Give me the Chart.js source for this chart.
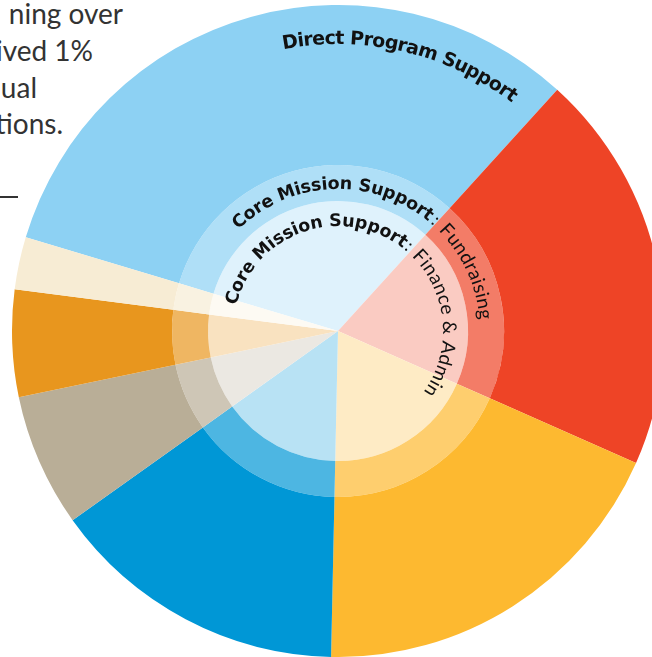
<!DOCTYPE html>
<html>
<head>
<meta charset="utf-8">
<script src="https://cdn.jsdelivr.net/npm/chart.js@4.4.1/dist/chart.umd.min.js"></script>
<style>
  html, body { margin: 0; padding: 0; background: #fff; overflow: hidden; }
  body { width: 652px; height: 657px; position: relative; }
  .copy { position: absolute; font-family: Lato, "Open Sans", sans-serif; font-size: 28px; color: #333; white-space: nowrap; line-height: 1; }
  .rule { position: absolute; left: 0; top: 196px; width: 18px; height: 1.5px; background: #333; }
  #wrap { position: absolute; left: 12px; top: 5px; width: 652px; height: 652px; }
</style>
</head>
<body>
  <!-- page text sitting behind the chart -->
  <div class="copy" style="right:529px; top:-1px;">ning over</div>
  <div class="copy" style="right:559px; top:36px;">ived 1%</div>
  <div class="copy" style="right:615px; top:73px;">ual</div>
  <div class="copy" style="right:589px; top:109px;">tions.</div>
  <div class="rule"></div>

  <div id="wrap"><canvas id="pie" width="652" height="652"></canvas></div>

<script>
// Share of spending (percent)
const categories = [
  'Direct Program Support',
  'Core Mission Support: Fundraising',
  'Core Mission Support: Finance & Admin',
  'Program Area 4',
  'Program Area 5',
  'Program Area 6',
  'Program Area 7'
];
const shares = [32.1, 19.9, 18.7, 14.8, 6.6, 5.3, 2.6];
const baseColors = ['#8dd1f3', '#ee4426', '#fdb930', '#0097d6', '#b9ae97', '#e8961e', '#f7ecd4'];

// blend a colour toward white
function lighten(hex, t) {
  const n = parseInt(hex.slice(1), 16);
  const r = n >> 16, g = (n >> 8) & 255, b = n & 255;
  const f = c => Math.round(c + (255 - c) * t);
  return `rgb(${f(r)}, ${f(g)}, ${f(b)})`;
}

const BOLD = '"DejaVu Sans", Lato, sans-serif';
const LIGHT = 'Lato, "Open Sans", sans-serif';

// curved labels: each run is placed between two angles (deg, clockwise from 12 o'clock)
const arcLabels = [
  { r: 287, runs: [
    { text: 'Direct Program Support', font: `bold 19px ${BOLD}`, from: -11, to: 37.3 }
  ]},
  { r: 142, runs: [
    { text: 'Core Mission Support', font: `bold 17.5px ${BOLD}`, from: -44.5, to: 39.5 },
    { text: ':', font: `18px ${LIGHT}`, from: 40.8, to: 42 },
    { text: 'Fundraising', font: `19px ${LIGHT}`, from: 45, to: 85.5 }
  ]},
  { r: 105, runs: [
    { text: 'Core Mission Support', font: `bold 17.5px ${BOLD}`, from: -76, to: 38 },
    { text: ':', font: `18px ${LIGHT}`, from: 39.2, to: 40.6 },
    { text: 'Finance & Admin', font: `19px ${LIGHT}`, from: 44.6, to: 125.5 }
  ]}
];

const arcTextPlugin = {
  id: 'arcText',
  afterDraw(chart) {
    const arc = chart.getDatasetMeta(0).data[0];
    if (!arc) return;
    const ctx = chart.ctx;
    ctx.save();
    ctx.translate(arc.x, arc.y);
    ctx.fillStyle = '#111';
    ctx.textAlign = 'center';
    ctx.textBaseline = 'alphabetic';
    arcLabels.forEach(label => {
      label.runs.forEach(run => {
        ctx.font = run.font;
        const chars = [...run.text];
        const widths = chars.map(c => ctx.measureText(c).width);
        const natural = widths.reduce((a, b) => a + b, 0);
        const span = (run.to - run.from) * Math.PI / 180 * label.r;
        const gap = chars.length > 1 ? (span - natural) / (chars.length - 1) : 0;
        let pos = chars.length > 1 ? 0 : (span - natural) / 2;
        chars.forEach((c, i) => {
          const a = run.from * Math.PI / 180 + (pos + widths[i] / 2) / label.r;
          ctx.save();
          ctx.rotate(a);
          ctx.fillText(c, 0, -label.r);
          ctx.restore();
          pos += widths[i] + gap;
        });
      });
    });
    ctx.restore();
  }
};

new Chart(document.getElementById('pie'), {
  type: 'doughnut',
  data: {
    labels: categories,
    datasets: [
      { data: shares, backgroundColor: baseColors, borderWidth: 0, weight: 160 },
      { data: shares, backgroundColor: baseColors.map(c => lighten(c, 0.3)), borderWidth: 0, weight: 36 },
      { data: shares, backgroundColor: baseColors.map(c => lighten(c, 0.72)), borderWidth: 0, weight: 130 }
    ]
  },
  options: {
    responsive: false,
    animation: false,
    cutout: 0,
    rotation: -73.3,
    layout: { padding: 0 },
    plugins: {
      legend: { display: false },
      tooltip: { enabled: false }
    }
  },
  plugins: [arcTextPlugin]
});
</script>
</body>
</html>
